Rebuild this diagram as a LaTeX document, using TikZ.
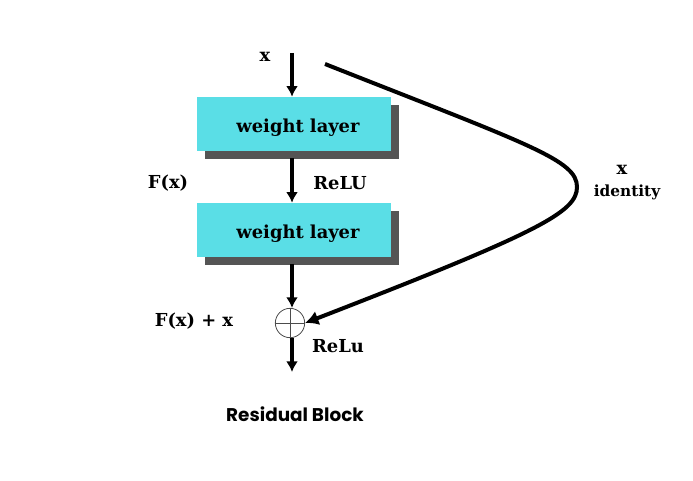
\documentclass[tikz,border=0pt]{standalone}
\usepackage{fontspec}
\setmainfont{DejaVu Serif}
\newfontfamily\capfont{Poppins}
\usepackage{tikz}
\usetikzlibrary{shadows,arrows.meta}
\definecolor{layercyan}{RGB}{90,222,230}
\definecolor{shadowgray}{RGB}{85,85,85}

\begin{document}
\begin{tikzpicture}[x=0.75pt,y=-0.75pt,shorten >=0pt,-]
                \useasboundingbox (0,0) rectangle (693,481);
                \tikzstyle{layer}=[rectangle,fill=layercyan,minimum width=145.5pt,minimum height=40.5pt,inner sep=0pt,text height=10pt,text depth=3pt,font=\bfseries\fontsize{13.4}{15}\selectfont,drop shadow={shadow xshift=6pt,shadow yshift=-6pt,fill=shadowgray,opacity=1}]
                \tikzstyle{lbl}=[font=\bfseries\fontsize{13.4}{15}\selectfont,inner sep=0pt]
                \tikzstyle{flow}=[line width=2.3pt,-{Latex[length=8pt,width=9pt]}]
                \foreach \num/\y in {1/124, 2/230}
                        \node[layer] (L-\num) at (294,\y) {\raisebox{-3pt}{\hspace{6pt}weight layer}};
                \node[circle,draw=black!70,line width=0.6pt,minimum size=22pt,inner sep=0pt,
                      path picture={\draw[line width=0.6pt,black!70] (path picture bounding box.north) -- (path picture bounding box.south)
                                    (path picture bounding box.west) -- (path picture bounding box.east);}] (sum) at (290,323) {};

                \coordinate (in) at (292,53);
                \coordinate (out) at (292,372);
                \coordinate (skip) at (325,64);

                \node[lbl] (x-in) at (265,57) {x};
                \node[lbl] (fx) at (168,183) {F(x)};
                \node[lbl] (relu-1) at (340,183) {ReLU};
                \node[lbl] (fx-sum) at (194,321) {F(x) + x};
                \node[lbl] (relu-2) at (338,346) {ReLu};
                \node[lbl] (x-id) at (622,170) {x};
                \node[lbl,font=\bfseries\fontsize{11.5}{13}\selectfont] (ident) at (627,192) {identity};
                \node[font=\capfont\bfseries\fontsize{13.8}{16}\selectfont] (title) at (295,414) {Residual Block};

                \draw[flow] (in) -- (L-1.north -| in);
                \draw[flow,shorten <=5pt] (L-1.south -| in) -- (L-2.north -| in);
                \draw[flow,shorten <=5pt] (L-2.south -| in) -- (sum.north -| in);
                \draw[flow] (sum.south -| in) -- (out);
                \draw[line width=3pt,-{Latex[length=10pt,width=11pt]}] (skip) .. controls (530,145) and (577,160) .. (577,187)
                      .. controls (577,212) and (540,232) .. (sum.east);
            \end{tikzpicture}
\end{document}
